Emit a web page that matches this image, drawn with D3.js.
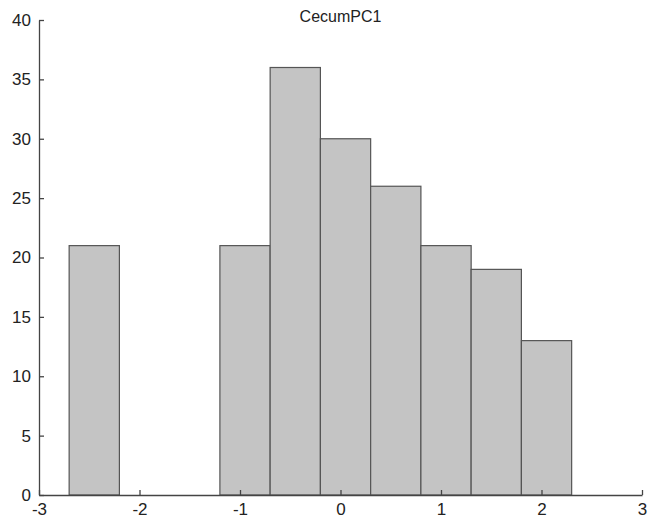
<!DOCTYPE html>
<html>
<head>
<meta charset="utf-8">
<script src="https://cdn.jsdelivr.net/npm/d3@7"></script>
<style>
  body { margin: 0; background: #fff; }
  svg { display: block; }
</style>
</head>
<body>
<div id="chart"></div>
<script>
// histogram data
var binEdges = [-2.70, -2.20, -1.70, -1.20, -0.70, -0.20, 0.30, 0.80, 1.30, 1.80, 2.30];
var counts = [21, 0, 0, 21, 36, 30, 26, 21, 19, 13];
var xTicks = [-3, -2, -1, 0, 1, 2, 3];
var yTicks = [0, 5, 10, 15, 20, 25, 30, 35, 40];
var title = 'CecumPC1';

var W = 656, H = 523;
var margin = {top: 20, right: 14, bottom: 28, left: 39};

var svg = d3.select('#chart').append('svg')
  .attr('width', W).attr('height', H);

var x = d3.scaleLinear().domain([-3, 3]).range([margin.left, W - margin.right]);
var y = d3.scaleLinear().domain([0, 40]).range([H - margin.bottom, margin.top]);

var bins = counts.map(function (c, i) {
  return {x0: binEdges[i], x1: binEdges[i + 1], n: c};
}).filter(function (d) { return d.n > 0; });

svg.append('g').selectAll('rect')
  .data(bins)
  .enter().append('rect')
  .attr('x', function (d) { return x(d.x0); })
  .attr('y', function (d) { return y(d.n); })
  .attr('width', function (d) { return x(d.x1) - x(d.x0); })
  .attr('height', function (d) { return y(0) - y(d.n); })
  .attr('fill', '#c4c4c4')
  .attr('stroke', '#555')
  .attr('stroke-width', 1.2);

// plain hyphen minus like the original
var fmt = function (d) { return String(d); };

// axes, ticks pointing inward
var xAxis = svg.append('g')
  .attr('transform', 'translate(0,' + y(0) + ')')
  .call(d3.axisBottom(x).tickValues(xTicks).tickFormat(fmt).tickSize(-5).tickPadding(8).tickSizeOuter(0));
var yAxis = svg.append('g')
  .attr('transform', 'translate(' + x(-3) + ',0)')
  .call(d3.axisLeft(y).tickValues(yTicks).tickFormat(fmt).tickSize(-5).tickPadding(8).tickSizeOuter(0));

[xAxis, yAxis].forEach(function (g) {
  g.select('.domain').attr('stroke', '#444').attr('stroke-width', 1.3);
  g.selectAll('.tick line').attr('stroke', '#444').attr('stroke-width', 1.3);
  g.selectAll('.tick text')
    .attr('fill', '#222')
    .style('font-family', 'Liberation Sans, Arial, sans-serif')
    .style('font-size', '17px');
});

svg.append('text')
  .attr('x', x(0))
  .attr('y', 22)
  .attr('text-anchor', 'middle')
  .style('font-family', 'Liberation Sans, Arial, sans-serif')
  .style('font-size', '16px')
  .attr('fill', '#222')
  .text(title);
</script>
</body>
</html>
